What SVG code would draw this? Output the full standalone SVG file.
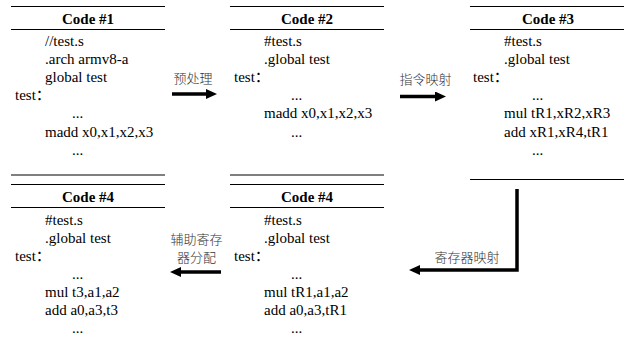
<svg xmlns="http://www.w3.org/2000/svg" width="625" height="353" viewBox="0 0 625 353">
<style>
text{font-family:'Liberation Serif','Times New Roman',Times,serif}
.code{font-size:15px;fill:#000}
.title{font-size:15px;font-weight:bold;fill:#000;text-anchor:middle}
.lbl{font-family:'Noto Sans CJK SC',sans-serif;font-size:13px;font-weight:300;fill:#333;text-anchor:middle}
.rule{stroke:#000;stroke-width:1;fill:none}
.soft{stroke:#000;stroke-width:1;fill:none}
.arr{stroke:#000;stroke-width:3.5;fill:none;marker-end:url(#ah)}
</style>
<defs>
<marker id="ah" viewBox="0 0 11 10" markerWidth="11" markerHeight="10" markerUnits="userSpaceOnUse" refX="3" refY="5" orient="auto">
<path d="M0,0 L11,5 L0,10 z" fill="#000"/>
</marker>
</defs>
<rect width="625" height="353" fill="#fff"/>

<g id="code1">
<line class="rule" x1="11" y1="6.5" x2="165" y2="6.5"/>
<line class="rule" x1="11" y1="29.5" x2="165" y2="29.5"/>
<line class="soft" x1="11" y1="175" x2="165" y2="175"/>
<text class="title" x="88" y="24">Code #1</text>
<text class="code" x="45" y="46">//test.s</text>
<text class="code" x="45" y="64">.arch armv8-a</text>
<text class="code" x="45" y="82">global test</text>
<text class="code" x="15" y="100">test<tspan font-family="'Noto Sans CJK SC',sans-serif">：</tspan></text>
<text class="code" x="72" y="118">...</text>
<text class="code" x="45" y="137">madd x0,x1,x2,x3</text>
<text class="code" x="72" y="155">...</text>
</g>

<g id="code2">
<line class="rule" x1="230" y1="6.5" x2="384" y2="6.5"/>
<line class="rule" x1="230" y1="29.5" x2="384" y2="29.5"/>
<line class="soft" x1="230" y1="175" x2="384" y2="175"/>
<text class="title" x="307" y="24">Code #2</text>
<text class="code" x="264" y="46">#test.s</text>
<text class="code" x="264" y="64">.global test</text>
<text class="code" x="234" y="82">test<tspan font-family="'Noto Sans CJK SC',sans-serif">：</tspan></text>
<text class="code" x="291" y="100">...</text>
<text class="code" x="264" y="118">madd x0,x1,x2,x3</text>
<text class="code" x="291" y="137">...</text>
</g>

<g id="code3">
<line class="rule" x1="470" y1="6.5" x2="624" y2="6.5"/>
<line class="rule" x1="470" y1="29.5" x2="624" y2="29.5"/>
<line class="rule" x1="470" y1="179.5" x2="624" y2="179.5"/>
<text class="title" x="548" y="24">Code #3</text>
<text class="code" x="504" y="46">#test.s</text>
<text class="code" x="504" y="64">.global test</text>
<text class="code" x="473" y="82">test<tspan font-family="'Noto Sans CJK SC',sans-serif">：</tspan></text>
<text class="code" x="532" y="100">...</text>
<text class="code" x="504" y="118">mul tR1,xR2,xR3</text>
<text class="code" x="504" y="137">add xR1,xR4,tR1</text>
<text class="code" x="532" y="155">...</text>
</g>

<g id="code4b">
<line class="rule" x1="230" y1="184.5" x2="384" y2="184.5"/>
<line class="rule" x1="230" y1="207.5" x2="384" y2="207.5"/>
<text class="title" x="307" y="202">Code #4</text>
<text class="code" x="264" y="225">#test.s</text>
<text class="code" x="264" y="243">.global test</text>
<text class="code" x="234" y="261">test<tspan font-family="'Noto Sans CJK SC',sans-serif">：</tspan></text>
<text class="code" x="291" y="279">...</text>
<text class="code" x="264" y="297">mul tR1,a1,a2</text>
<text class="code" x="264" y="315">add a0,a3,tR1</text>
<text class="code" x="291" y="333">...</text>
</g>

<g id="code4a">
<line class="rule" x1="11" y1="184.5" x2="165" y2="184.5"/>
<line class="rule" x1="11" y1="207.5" x2="165" y2="207.5"/>
<text class="title" x="88" y="202">Code #4</text>
<text class="code" x="45" y="225">#test.s</text>
<text class="code" x="45" y="243">.global test</text>
<text class="code" x="15" y="261">test<tspan font-family="'Noto Sans CJK SC',sans-serif">：</tspan></text>
<text class="code" x="72" y="279">...</text>
<text class="code" x="45" y="297">mul t3,a1,a2</text>
<text class="code" x="45" y="315">add a0,a3,t3</text>
<text class="code" x="72" y="333">...</text>
</g>

<g id="connectors">
<line class="arr" x1="172" y1="94" x2="209" y2="94"/>
<text class="lbl" x="193" y="83">预处理</text>
<line class="arr" x1="400" y1="96.5" x2="438" y2="96.5"/>
<text class="lbl" x="425.5" y="84">指令映射</text>
<path class="arr" d="M517,189 L517,270 L417,270"/>
<text class="lbl" x="467" y="262">寄存器映射</text>
<line class="arr" x1="221" y1="272" x2="178" y2="272"/>
<text class="lbl" x="196.5" y="244">辅助寄存</text>
<text class="lbl" x="196.5" y="262">器分配</text>
</g>
</svg>
